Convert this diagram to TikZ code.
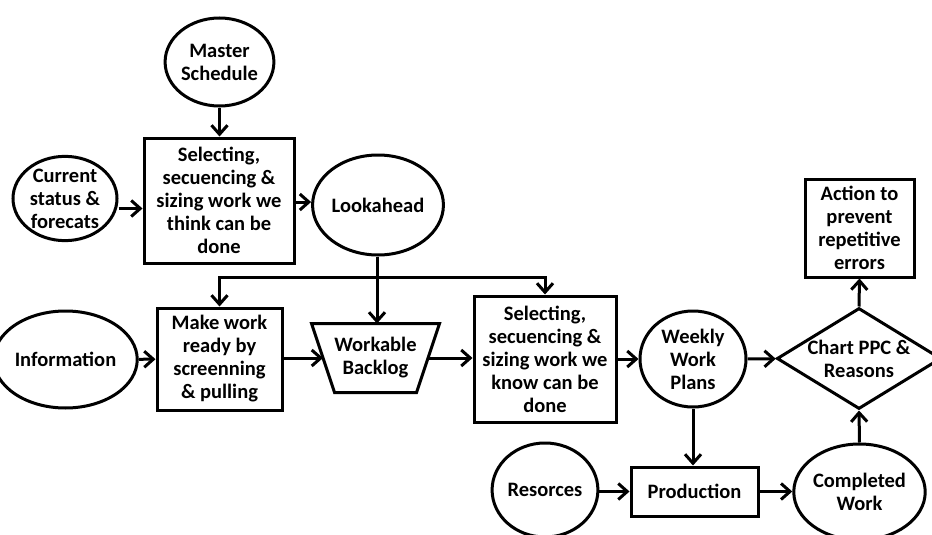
\documentclass[tikz,border=0pt]{standalone}
\usepackage{fontspec}
\setmainfont{Carlito}
\usetikzlibrary{shapes.geometric,arrows.meta}
\begin{document}
\begin{tikzpicture}[x=1pt,y=-1pt,
  base/.style={draw=black,line width=3pt,align=center,inner sep=0pt,
    font=\fontsize{20.5}{23}\selectfont\bfseries},
  circ/.style={base,ellipse},
  box/.style={base,rectangle},
  arr/.style={line width=3pt,-{Straight Barb[length=9pt,width=16pt,line width=3pt]}},
  ln/.style={line width=3pt}]
\useasboundingbox (0,0) rectangle (932,535);
% nodes
\node[circ,minimum width=106pt,minimum height=88pt] (ms) at (219.5,62) {Master\\Schedule};
\node[circ,minimum width=104pt,minimum height=84pt] (cs) at (65,198.5) {Current\\status \&\\forecats};
\node[box,minimum width=150pt,minimum height=125pt] (sel1) at (219,200.5) {Selecting,\\secuencing \&\\sizing work we\\think can be\\done};
\node[circ,minimum width=110pt,minimum height=100pt] (look) at (378,205) {Lookahead};
\node[circ,minimum width=106pt,minimum height=97pt] (info) at (65.5,359.5) {Information};
\node[box,minimum width=125pt,minimum height=102pt] (mw) at (219.5,359) {Make work\\ready by\\screenning\\\& pulling};
\node[base,draw=none,rectangle,minimum width=125pt,minimum height=66pt] (wb) at (375.5,358) {Workable\\Backlog};
\draw[line width=3pt,line join=miter] (wb.north west) -- (wb.north east) -- ([xshift=-23pt]wb.south east) -- ([xshift=23pt]wb.south west) -- cycle;
\node[box,minimum width=142pt,minimum height=126pt] (sel2) at (545,359) {Selecting,\\secuencing \&\\sizing work we\\know can be\\done};
\node[circ,minimum width=106pt,minimum height=96pt] (wwp) at (693,359) {Weekly\\Work\\Plans};
\node[base,diamond,minimum width=164pt,minimum height=101pt,aspect=1.64] (chart) at (859,358.5) {Chart PPC \&\\Reasons};
\node[box,minimum width=109pt,minimum height=98pt] (act) at (859.5,228) {Action to\\prevent\\repetitive\\errors};
\node[box,minimum width=127pt,minimum height=49pt] (prod) at (694.5,491.5) {Production};
\node[circ,minimum width=104pt,minimum height=94pt] (res) at (545,490) {Resorces};
\node[circ,minimum width=107pt,minimum height=96pt] (cw) at (859.5,492) {Completed\\Work};
\coordinate (j) at (377,277);
% connectors
\draw[arr] (ms.south) -- (ms.south |- sel1.north);
\draw[arr] ([yshift=-10pt]cs.east) -- ([yshift=-10pt]cs.east -| sel1.west);
\draw[arr] ([yshift=-1.5pt]sel1.east) -- ([yshift=-1.5pt]sel1.east -| look.west);
\draw[ln] (look.south -| j) -- (j);
\draw[arr] (j) -- (j |- wb.north);
\draw[arr] (j) -| (mw.north);
\draw[arr] (j) -| (sel2.north);
\draw[arr] (info) -- (mw);
\draw[arr] (mw.east |- wb.west) -- ([xshift=11.5pt]wb.west);
\draw[arr] ([xshift=-11.5pt]wb.east) -- (wb.east -| sel2.west);
\draw[arr] (sel2) -- (wwp);
\draw[arr] (wwp) -- (chart);
\draw[arr] (chart.north) -- (act.south);
\draw[arr] (wwp.south) -- (wwp.south |- prod.north);
\draw[arr] (res.east |- prod.west) -- (prod.west);
\draw[arr] (prod.east) -- (prod.east -| cw.west);
\draw[arr] (cw.north) -- (chart.south);
\end{tikzpicture}
\end{document}
